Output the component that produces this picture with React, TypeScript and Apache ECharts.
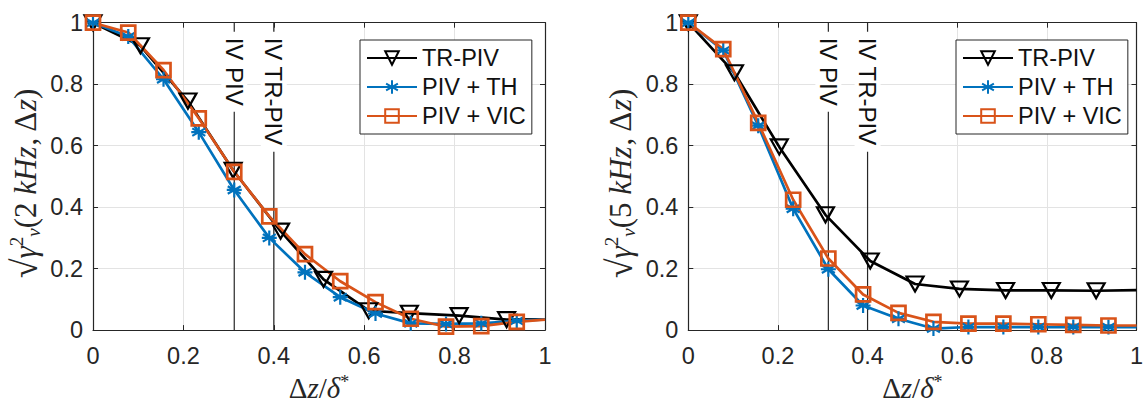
import React, { useEffect, useRef } from "react";
import * as echarts from "echarts";

// ---- data ----
const seriesNames = ["TR-PIV", "PIV + TH", "PIV + VIC"];

// left panel (2 kHz)
const xTrLeft = [0, 0.105, 0.21, 0.31, 0.415, 0.51, 0.61, 0.7, 0.81, 0.915, 1.0];
const trLeft = [1.0, 0.925, 0.745, 0.52, 0.322, 0.165, 0.063, 0.055, 0.047, 0.034, 0.035];
const xPivLeft = [0, 0.078, 0.156, 0.234, 0.3125, 0.39, 0.469, 0.547, 0.625, 0.703, 0.781, 0.859, 0.9375, 1.0];
const thLeft = [1.0, 0.955, 0.816, 0.644, 0.456, 0.3, 0.188, 0.107, 0.054, 0.022, 0.02, 0.022, 0.03, 0.035];
const vicLeft = [1.0, 0.968, 0.846, 0.689, 0.515, 0.37, 0.247, 0.159, 0.091, 0.037, 0.011, 0.013, 0.027, 0.034];

// right panel (5 kHz)
const xTrRight = [0, 0.103, 0.203, 0.306, 0.406, 0.506, 0.605, 0.708, 0.81, 0.91, 1.0];
const trRight = [1.0, 0.837, 0.596, 0.375, 0.225, 0.15, 0.134, 0.129, 0.129, 0.128, 0.13];
const xPivRight = [0, 0.078, 0.156, 0.234, 0.3125, 0.39, 0.469, 0.547, 0.625, 0.703, 0.781, 0.859, 0.9375, 1.0];
const thRight = [1.0, 0.91, 0.665, 0.395, 0.198, 0.08, 0.037, 0.005, 0.01, 0.01, 0.01, 0.01, 0.01, 0.01];
const vicRight = [1.0, 0.914, 0.674, 0.424, 0.233, 0.116, 0.056, 0.027, 0.021, 0.021, 0.019, 0.017, 0.015, 0.015];

// vertical reference lines
const xlineValues = [0.3125, 0.4];
const xlineLabels = ["IV PIV", "IV TR-PIV"];

const yNameLeftFreq = "2";
const yNameRightFreq = "5";

// ---- styles ----
const C_BLACK = "#000000";
const C_BLUE = "#0072BD";
const C_ORANGE = "#D95319";
const AX = "#262626";
const SANS = '"Liberation Sans", Arial, Helvetica, sans-serif';
const SERIF = '"Liberation Serif", "DejaVu Serif", serif';
const STAR = "path://M0,-10L0,10M-8.66,-5L8.66,5M-8.66,5L8.66,-5M-10,0L10,0";

function pts(xs: number[], ys: number[]) {
  return xs.map((x, i) =>
    i === xs.length - 1 ? { value: [x, ys[i]], symbol: "none" } : [x, ys[i]]
  );
}

function yName(freq: string) {
  return `{r|√}{i|γ}{sup|2}{sub|v}{n|(${freq} }{i|kHz}{n|, Δ}{i|z}{n|)}`;
}

const yNameRich = {
  r: { fontFamily: SERIF, fontSize: 36, color: AX },
  i: { fontFamily: SERIF, fontStyle: "italic", fontSize: 31, color: AX },
  n: { fontFamily: SERIF, fontSize: 31, color: AX },
  sup: { fontFamily: SERIF, fontSize: 19, color: AX, verticalAlign: "top" },
  sub: { fontFamily: SERIF, fontStyle: "italic", fontSize: 19, color: AX, verticalAlign: "bottom" },
};

const xNameRich = {
  n: { fontFamily: SERIF, fontSize: 29, color: AX },
  i: { fontFamily: SERIF, fontStyle: "italic", fontSize: 29, color: AX },
  s: { fontFamily: SERIF, fontSize: 18, color: AX, verticalAlign: "top" },
};

function lineSeries(
  name: string,
  data: any[],
  color: string,
  symbol: string,
  size: any,
  rotate: number,
  idx: number,
  bw: number
) {
  return {
    type: "line",
    name,
    xAxisIndex: idx * 2,
    yAxisIndex: idx * 2,
    data,
    symbol,
    symbolSize: size,
    symbolRotate: rotate,
    showAllSymbol: true,
    lineStyle: { color, width: 2.7 },
    itemStyle: { color: "rgba(0,0,0,0)", borderColor: color, borderWidth: bw },
    z: 3,
    animation: false,
  };
}

function xlineSeries(idx: number) {
  return {
    type: "custom",
    xAxisIndex: idx * 2,
    yAxisIndex: idx * 2,
    data: xlineValues.map((v) => [v]),
    z: 1,
    silent: true,
    renderItem: (params: any, api: any) => {
      const x = api.value(0);
      const top = api.coord([x, 1]);
      const bot = api.coord([x, 0]);
      return {
        type: "group",
        children: [
          {
            type: "line",
            shape: { x1: top[0], y1: top[1], x2: bot[0], y2: bot[1] },
            style: { stroke: AX, lineWidth: 1.2 },
          },
          {
            type: "text",
            x: top[0],
            y: top[1] + 9,
            rotation: -Math.PI / 2,
            style: {
              text: xlineLabels[params.dataIndex],
              font: `24px ${SANS}`,
              fill: "#111",
              align: "left",
              verticalAlign: "middle",
              backgroundColor: "#ffffff",
              padding: [1, 6, 1, 6],
            },
          },
        ],
      };
    },
  };
}

function axesFor(idx: number, freq: string) {
  const common = {
    min: 0,
    max: 1,
    interval: 0.2,
    axisLine: { show: true, onZero: false, lineStyle: { color: AX, width: 1.2 } },
    axisTick: { show: true, inside: true, length: 5, lineStyle: { color: AX } },
  };
  const xAxes = [
    {
      ...common,
      type: "value",
      gridIndex: idx,
      position: "bottom",
      axisLabel: { fontSize: 23.5, fontFamily: SANS, color: AX, margin: 14 },
      splitLine: { show: true, lineStyle: { color: "#e3e3e3", width: 1 } },
      name: "{n|Δ}{i|z}{n|/}{i|δ}{s|*}",
      nameLocation: "middle",
      nameGap: 34,
      nameTextStyle: { rich: xNameRich },
    },
    {
      ...common,
      type: "value",
      gridIndex: idx,
      position: "top",
      axisLabel: { show: false },
      splitLine: { show: false },
    },
  ];
  const yAxes = [
    {
      ...common,
      type: "value",
      gridIndex: idx,
      position: "left",
      axisLabel: { fontSize: 23.5, fontFamily: SANS, color: AX, margin: 10 },
      splitLine: { show: true, lineStyle: { color: "#e3e3e3", width: 1 } },
      name: yName(freq),
      nameLocation: "middle",
      nameGap: 50,
      nameTextStyle: { rich: yNameRich, padding: [0, 14, 0, 0] },
    },
    {
      ...common,
      type: "value",
      gridIndex: idx,
      position: "right",
      axisLabel: { show: false },
      splitLine: { show: false },
    },
  ];
  return { xAxes, yAxes };
}

function legendFor(left: number) {
  return {
    left,
    top: 40,
    orient: "vertical",
    data: seriesNames,
    itemWidth: 50,
    itemHeight: 17,
    itemGap: 3,
    selectedMode: false,
    textStyle: { fontSize: 23.5, fontFamily: SANS, color: "#111", lineHeight: 26 },
    borderColor: AX,
    borderWidth: 1,
    borderRadius: 0,
    backgroundColor: "#ffffff",
    padding: [5, 6, 5, 6],
  };
}

export default function App() {
  const ref = useRef<HTMLDivElement>(null);
  useEffect(() => {
    if (!ref.current) return;
    const chart = echarts.init(ref.current, undefined, { renderer: "svg" });
    const a0 = axesFor(0, yNameLeftFreq);
    const a1 = axesFor(1, yNameRightFreq);
    const option: any = {
      animation: false,
      backgroundColor: "#ffffff",
      grid: [
        { left: 93, top: 22.7, width: 452, height: 310.6 },
        { left: 688.3, top: 22.7, width: 451.7, height: 310.6 },
      ],
      xAxis: [...a0.xAxes, ...a1.xAxes],
      yAxis: [...a0.yAxes, ...a1.yAxes],
      legend: [legendFor(360), legendFor(956)],
      series: [
        xlineSeries(0),
        xlineSeries(1),
        lineSeries(seriesNames[0], pts(xTrLeft, trLeft), C_BLACK, "triangle", [17, 15], 180, 0, 2.2),
        lineSeries(seriesNames[1], pts(xPivLeft, thLeft), C_BLUE, STAR, 15, 0, 0, 2.2),
        lineSeries(seriesNames[2], pts(xPivLeft, vicLeft), C_ORANGE, "rect", 14, 0, 0, 2.7),
        lineSeries(seriesNames[0], pts(xTrRight, trRight), C_BLACK, "triangle", [17, 15], 180, 1, 2.2),
        lineSeries(seriesNames[1], pts(xPivRight, thRight), C_BLUE, STAR, 15, 0, 1, 2.2),
        lineSeries(seriesNames[2], pts(xPivRight, vicRight), C_ORANGE, "rect", 14, 0, 1, 2.7),
      ],
    };
    chart.setOption(option);
    return () => chart.dispose();
  }, []);
  return (
    <div
      ref={ref}
      style={{ position: "fixed", left: 0, top: 0, width: 1146, height: 407, background: "#fff" }}
    />
  );
}
